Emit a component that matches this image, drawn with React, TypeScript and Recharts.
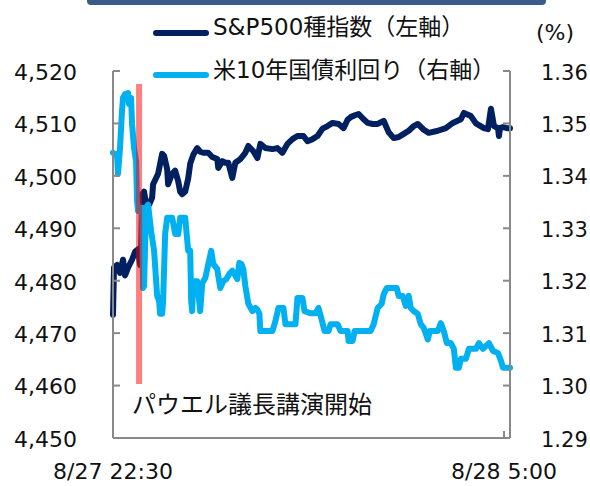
import { LineChart, Line, XAxis, YAxis, ReferenceLine, Legend } from "recharts";

// minutes since 8/27 22:30 (JST)
const spxMinutes = [
  0, 1, 4, 7, 10, 12, 15, 19, 22, 25, 27, 28, 29, 31, 33, 36, 39, 40, 45, 49, 51, 54, 55, 59, 62, 65,
  67, 69, 72, 75, 77, 80, 84, 87, 90, 95, 99, 104, 105, 109, 112, 115, 119, 122, 127, 132, 135, 140,
  144, 147, 152, 159, 164, 169, 174, 179, 184, 190, 194, 199, 204, 209, 214, 219, 225, 230, 234, 237,
  242, 245, 250, 254, 259, 264, 270, 275, 280, 285, 290, 295, 300, 304, 310, 315, 324, 332, 339, 347,
  350, 357, 362, 370, 374, 377, 380, 384, 385, 386, 389, 393, 396,
];
const spxValues = [
  4473.5, 4482.5, 4483, 4481.5, 4484, 4481, 4482.5, 4484, 4485.5, 4486, 4483, 4484, 4496.5, 4497,
  4494.5, 4494.5, 4495.8, 4498.4, 4500.4, 4504.2, 4503.8, 4501.3, 4498.4, 4500.4, 4501, 4499, 4497,
  4496.5, 4497, 4499.5, 4502.3, 4504, 4505.3, 4504.6, 4504.4, 4504.4, 4503.6, 4503.2, 4501.5, 4502.8,
  4502.5, 4502.5, 4499.6, 4502.5, 4503.2, 4504.4, 4505.7, 4504.7, 4503.4, 4506.1, 4505.3, 4505.1,
  4505.3, 4504.4, 4506.1, 4507, 4507.6, 4507.6, 4506.6, 4507, 4507.6, 4509, 4509.5, 4510.1, 4509.9,
  4509.1, 4510.7, 4511.2, 4511.6, 4511.8, 4510.8, 4510.1, 4509.9, 4509.9, 4510.5, 4508.3, 4507.2,
  4507.4, 4508, 4508.6, 4509.5, 4509.9, 4508.8, 4508.2, 4508.6, 4509.1, 4510.1, 4510.8, 4512, 4511.4,
  4510, 4509.1, 4508.9, 4512.8, 4509.5, 4509.1, 4507.6, 4509.1, 4509.3, 4509.1, 4509.1,
];

const yieldMinutes = [
  0, 2, 4, 5, 7, 9, 10, 12, 15, 16, 18, 19, 21, 23, 24, 25, 28, 29, 30, 31, 33, 35, 38, 41, 44, 46,
  47, 49, 50, 52, 54, 59, 62, 65, 67, 72, 75, 77, 78, 79, 80, 84, 86, 87, 89, 92, 98, 100, 104, 107,
  110, 113, 116, 119, 122, 124, 126, 128, 130, 132, 135, 139, 142, 144, 146, 147, 152, 159, 162, 165,
  170, 172, 175, 182, 184, 189, 191, 197, 202, 205, 208, 211, 215, 217, 224, 227, 234, 235, 239, 241,
  257, 260, 264, 268, 270, 273, 283, 285, 289, 292, 295, 297, 300, 304, 307, 310, 314, 316, 324, 327,
  330, 333, 337, 340, 342, 345, 347, 352, 355, 362, 365, 369, 375, 379, 384, 387, 389, 396,
];
const yieldValues = [
  1.3444, 1.344, 1.3442, 1.3404, 1.3453, 1.3524, 1.3549, 1.3556, 1.3558, 1.3537, 1.3549, 1.3499,
  1.3453, 1.3428, 1.3352, 1.3333, 1.3339, 1.3339, 1.3186, 1.319, 1.3339, 1.3345, 1.3295, 1.3257,
  1.3172, 1.3161, 1.3137, 1.3137, 1.3161, 1.3289, 1.332, 1.332, 1.3289, 1.3289, 1.332, 1.332, 1.3257,
  1.3257, 1.3161, 1.3142, 1.3199, 1.3199, 1.3161, 1.3142, 1.3195, 1.3205, 1.3257, 1.3232, 1.3222,
  1.3186, 1.3199, 1.3203, 1.3213, 1.3219, 1.321, 1.3203, 1.3234, 1.3232, 1.3222, 1.319, 1.3156,
  1.3142, 1.3148, 1.3145, 1.3137, 1.3104, 1.3104, 1.3104, 1.3123, 1.3148, 1.3148, 1.3117, 1.3117,
  1.3117, 1.3167, 1.3167, 1.3142, 1.3138, 1.3138, 1.3148, 1.3127, 1.3104, 1.3104, 1.3117, 1.3117,
  1.3104, 1.3104, 1.3085, 1.3085, 1.3104, 1.3104, 1.3117, 1.3148, 1.3156, 1.3174, 1.3186, 1.3186,
  1.3171, 1.3171, 1.3152, 1.3171, 1.3148, 1.3142, 1.3137, 1.3117, 1.311, 1.3088, 1.3104, 1.3104,
  1.3119, 1.3104, 1.3081, 1.3081, 1.307, 1.3034, 1.3034, 1.3051, 1.3051, 1.307, 1.307, 1.3081, 1.307,
  1.3081, 1.3066, 1.3062, 1.3047, 1.3034, 1.3034,
];

const leftTicks = [4450, 4460, 4470, 4480, 4490, 4500, 4510, 4520];
const rightTicks = [1.29, 1.3, 1.31, 1.32, 1.33, 1.34, 1.35, 1.36];
const timeTicks = [0, 390];
const timeLabels = ["8/27 22:30", "8/28 5:00"];
const seriesNames = ["S&P500種指数（左軸）", "米10年国債利回り（右軸）"];
const powellMinute = 26;
const powellLabel = "パウエル議長講演開始";

const NAVY = "#002060";
const SKY = "#00b0f0";
const AXIS = "#898989";
const FONT = "'DejaVu Sans', 'Noto Sans CJK JP', sans-serif";
const JP = "'Noto Sans CJK JP', sans-serif";

const spxData = spxMinutes.map((t, i) => ({ t, v: spxValues[i] }));
const yieldData = yieldMinutes.map((t, i) => ({ t, v: yieldValues[i] }));

function LeftTick({ x, y, payload }: any) {
  return (
    <g>
      <line x1={x} x2={x + 7} y1={y} y2={y} stroke={AXIS} strokeWidth={2} />
      <text x={x - 36} y={y + 1} dy="0.36em" textAnchor="end" fontSize={22} fill="#111">
        {payload.value.toLocaleString("en-US")}
      </text>
    </g>
  );
}

function RightTick({ x, y, payload }: any) {
  return (
    <g>
      <line x1={x - 7} x2={x} y1={y} y2={y} stroke={AXIS} strokeWidth={2} />
      <text x={x + 31} y={y + 1} dy="0.36em" textAnchor="start" fontSize={21} fill="#111">
        {payload.value.toFixed(2)}
      </text>
    </g>
  );
}

function TimeTick({ x, y, payload, index }: any) {
  return (
    <g>
      <line x1={x} x2={x} y1={y - 7} y2={y} stroke={AXIS} strokeWidth={2} />
      <text x={x} y={y + 33} dy="0.36em" textAnchor="middle" fontSize={22} fill="#111">
        {timeLabels[index] ?? payload.value}
      </text>
    </g>
  );
}

function LegendBox() {
  const sw = (c: string, top: number) => (
    <div style={{ position: "absolute", left: 153, top, width: 56, height: 6, borderRadius: 3, background: c }} />
  );
  const label = (s: string, top: number) => (
    <div style={{ position: "absolute", left: 213, top, fontSize: 23, lineHeight: "28px", whiteSpace: "nowrap", color: "#111" }}>
      {s}
    </div>
  );
  return (
    <div style={{ position: "relative", width: 590, height: 100, fontFamily: FONT }}>
      {sw(NAVY, 30)}
      {label(seriesNames[0], 13)}
      {sw(SKY, 72)}
      {label(seriesNames[1], 56)}
    </div>
  );
}

export default function App() {
  return (
    <div style={{ position: "absolute", left: 0, top: 0, width: 590, height: 486, background: "#fff", fontFamily: FONT }}>
      <LineChart width={590} height={486} margin={{ top: 71, right: 0, bottom: 0, left: 0 }}>
        <XAxis
          dataKey="t"
          type="number"
          domain={[0, 396]}
          ticks={timeTicks}
          tick={<TimeTick />}
          tickLine={false}
          tickSize={0}
          tickMargin={0}
          height={48}
          axisLine={{ stroke: AXIS, strokeWidth: 2 }}
          allowDuplicatedCategory={false}
        />
        <YAxis
          yAxisId="left"
          domain={[4450, 4520]}
          ticks={leftTicks}
          tick={<LeftTick />}
          tickLine={false}
          tickSize={0}
          tickMargin={0}
          width={113}
          axisLine={{ stroke: AXIS, strokeWidth: 2 }}
          interval={0}
        />
        <YAxis
          yAxisId="right"
          orientation="right"
          domain={[1.29, 1.36]}
          ticks={rightTicks}
          tick={<RightTick />}
          tickLine={false}
          tickSize={0}
          tickMargin={0}
          width={80}
          axisLine={{ stroke: AXIS, strokeWidth: 2 }}
          interval={0}
        />
        <Legend
          layout="vertical"
          align="center"
          verticalAlign="middle"
          wrapperStyle={{ position: "absolute", left: 0, top: 0, width: 590, height: 100 }}
          content={() => <LegendBox />}
        />
        <Line
          yAxisId="left"
          data={spxData}
          dataKey="v"
          name={seriesNames[0]}
          type="linear"
          stroke={NAVY}
          strokeWidth={6}
          strokeLinejoin="round"
          strokeLinecap="round"
          dot={false}
          isAnimationActive={false}
        />
        <Line
          yAxisId="right"
          data={yieldData}
          dataKey="v"
          name={seriesNames[1]}
          type="linear"
          stroke={SKY}
          strokeWidth={6}
          strokeLinejoin="round"
          strokeLinecap="round"
          dot={false}
          isAnimationActive={false}
        />
        <ReferenceLine
          yAxisId="left"
          segment={[
            { x: powellMinute, y: 4517.5 },
            { x: powellMinute, y: 4460.3 },
          ]}
          stroke="#ff0000"
          strokeOpacity={0.5}
          strokeWidth={6}
        />
      </LineChart>
      <div style={{ position: "absolute", left: 87, top: 0, width: 459, height: 5, background: "#3c5a8a", borderRadius: "0 0 4px 4px" }} />
      <div style={{ position: "absolute", left: 536, top: 20, fontSize: 22, lineHeight: "26px", color: "#111" }}>(%)</div>
      <div style={{ position: "absolute", left: 132, top: 389, fontSize: 24, lineHeight: "28px", fontFamily: JP, color: "#111", whiteSpace: "nowrap" }}>
        {powellLabel}
      </div>
    </div>
  );
}
